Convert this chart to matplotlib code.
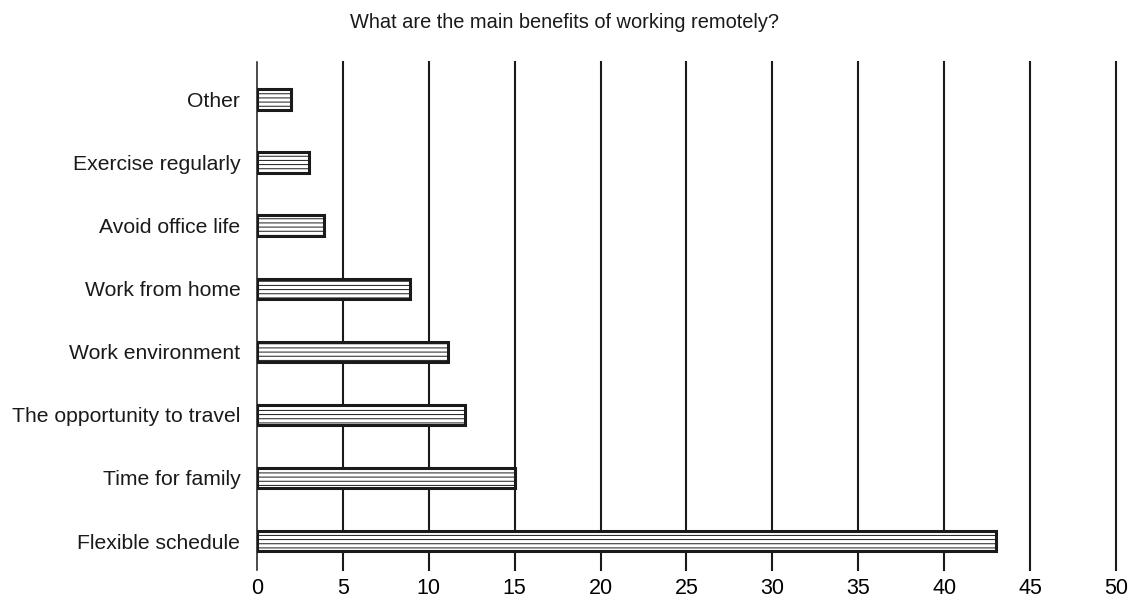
import matplotlib
matplotlib.use('Agg')
import matplotlib.pyplot as plt

categories = ['Flexible schedule', 'Time for family', 'The opportunity to travel',
              'Work environment', 'Work from home', 'Avoid office life',
              'Exercise regularly', 'Other']
values = [43, 15, 12.1, 11.1, 8.9, 3.9, 3.0, 2.0]
xticks = [0, 5, 10, 15, 20, 25, 30, 35, 40, 45, 50]
title = 'What are the main benefits of working remotely?'

plt.rcParams['font.family'] = ['Liberation Sans', 'DejaVu Sans']
plt.rcParams['hatch.linewidth'] = 0.7
plt.rcParams['hatch.color'] = '#444444'

fig = plt.figure(figsize=(11.29, 5.98), dpi=100)
ax = fig.add_axes([0.2276, 0.0468, 0.7609, 0.8495])

ypos = list(range(len(categories)))
ax.barh(ypos, values, height=0.33, color='white', edgecolor='#1a1a1a',
        linewidth=2.2, hatch='----', zorder=3)

ax.set_xlim(0, 50)
ax.set_ylim(-0.46, 7.6)
ax.set_xticks(xticks)
ax.set_xticklabels([str(t) for t in xticks], fontsize=15.5)
ax.set_yticks(ypos)
ax.set_yticklabels(categories, fontsize=15.2, color='#1a1a1a')
ax.tick_params(axis='both', length=0)
ax.tick_params(axis='x', pad=6)
ax.tick_params(axis='y', pad=12)

# vertical grid lines
for t in xticks:
    ax.axvline(t, color='#1a1a1a', linewidth=1.5 if t else 1.1, zorder=1, clip_on=False)

for s in ax.spines.values():
    s.set_visible(False)

fig.text(0.5, 0.962, title, ha='center', va='center', fontsize=14.4, color='#1a1a1a')

fig.savefig('out.png', dpi=100)
